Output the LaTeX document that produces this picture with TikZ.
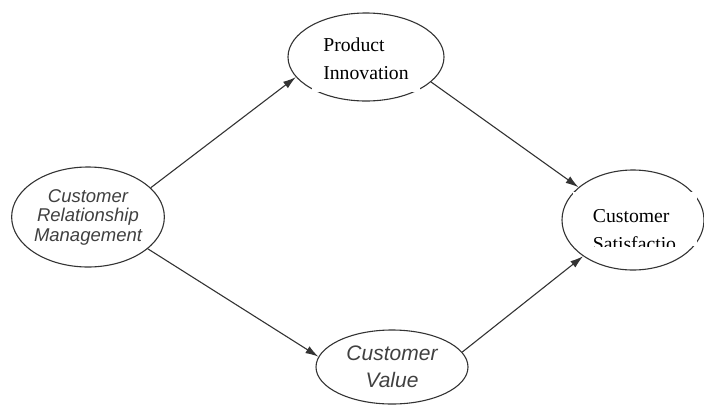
\documentclass[tikz,border=0pt]{standalone}
\usepackage{fontspec}
\setmainfont{Liberation Serif}
\setsansfont{Liberation Sans}
\usepackage{tikz}
\usetikzlibrary{arrows.meta,positioning,shapes.geometric}

\begin{document}
\begin{tikzpicture}[x=1pt, y=-1pt,
                    OVAL/.style={ellipse, draw=black!80, line width=1.1pt, inner sep=0pt, align=center},
                    SANS/.style={font=\sffamily\itshape\fontsize{18.5}{19.5}\selectfont, text=black!75},
                    BOX/.style={rectangle, fill=white, inner sep=0pt},
                    SERIF/.style={font=\fontsize{19.7}{28}\selectfont, align=left, inner sep=0pt},
                    LINK/.style={-{Latex[length=13pt,width=8pt]}, line width=1.1pt, draw=black!80},
                ]
                \useasboundingbox (0,0) rectangle (704,405);

                \node[OVAL, SANS, minimum width=152, minimum height=100] (CRM) at (88,217) {Customer\\Relationship\\Management};

                \node[OVAL, minimum width=156, minimum height=88] (ProdInno) at (366,57) {};
                \node[BOX, SERIF, minimum width=108, minimum height=66] (ProdInnoText) at (366,59) {Product\\Innovation};

                \node[OVAL, minimum width=142, minimum height=100] (CustSat) at (633,220) {};
                \node[BOX, minimum width=124, minimum height=54] (CustSatBox) at (635,219) {};
                \begin{scope}
                    \clip (CustSatBox.south west) rectangle (CustSatBox.north east);
                    \node[SERIF, anchor=north west] (CustSatText) at (592.7,209) {Customer\\Satisfactio};
                \end{scope}

                \node[OVAL, SANS, font=\sffamily\itshape\fontsize{21}{27}\selectfont, minimum width=152, minimum height=74] (CustVal) at (392,367) {Customer\\Value};

                \draw[LINK] (CRM.25) -- (ProdInno.196);
                \draw[LINK] (ProdInno.-21) -- (CustSat.149);
                \draw[LINK] (CRM.-28) -- (CustVal.172);
                \draw[LINK] (CustVal.12) -- (CustSat.216);

            \end{tikzpicture}
\end{document}
